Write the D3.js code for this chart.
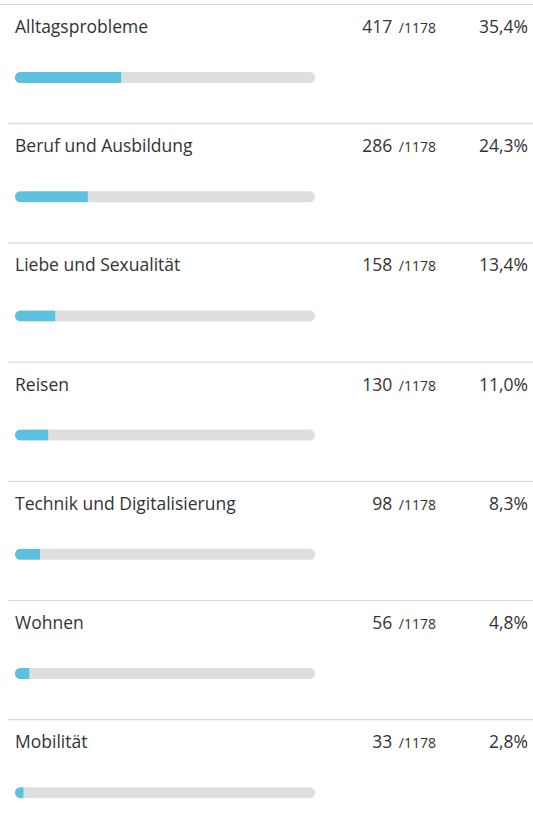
<!DOCTYPE html>
<html>
<head>
<meta charset="utf-8">
<script src="https://cdn.jsdelivr.net/npm/d3@7"></script>
<style>
  body { margin: 0; background: #fff; }
  svg text { font-family: "Open Sans", "Noto Sans", sans-serif; fill: #333333; }
</style>
</head>
<body>
<div id="chart"></div>
<script>
// data
var categories = ["Alltagsprobleme", "Beruf und Ausbildung", "Liebe und Sexualität", "Reisen",
  "Technik und Digitalisierung", "Wohnen", "Mobilität"];
var counts = [417, 286, 158, 130, 98, 56, 33];
var total = 1178;

var width = 533, height = 831;
var rowH = 119.2, top0 = 4;

var svg = d3.select("#chart").append("svg")
  .attr("width", width)
  .attr("height", height);

var y = d3.scaleBand()
  .domain(categories)
  .range([top0, top0 + rowH * categories.length])
  .padding(0);

var x = d3.scaleLinear()
  .domain([0, 1])
  .range([15, 315]);

var pct = function(v) { return d3.format(".1f")(v / total * 100).replace(".", ",") + "%"; };

var rows = svg.selectAll("g.row")
  .data(categories)
  .enter()
  .append("g")
  .attr("class", "row")
  .attr("transform", function(d) { return "translate(0," + y(d) + ")"; });

// separator lines
rows.append("line")
  .attr("x1", function(d, i) { return i == 0 ? 0 : 8; })
  .attr("x2", width)
  .attr("y1", 0.5)
  .attr("y2", 0.5)
  .attr("stroke", "#d9d9d9")
  .attr("stroke-width", 1.2);

rows.append("text")
  .attr("x", 15)
  .attr("y", 29)
  .style("font-size", "17.5px")
  .text(function(d) { return d; });

// count + total, right aligned
var cnt = rows.append("text")
  .attr("x", 436)
  .attr("y", 29)
  .attr("text-anchor", "end");
cnt.append("tspan")
  .style("font-size", "17.5px")
  .text(function(d, i) { return counts[i] + " "; });
cnt.append("tspan")
  .attr("dx", 2)
  .style("font-size", "14px")
  .text("/" + total);

rows.append("text")
  .attr("x", 528)
  .attr("y", 29)
  .attr("text-anchor", "end")
  .style("font-size", "17.5px")
  .text(function(d, i) { return pct(counts[i]); });

// track + fill
rows.append("rect")
  .attr("x", x(0))
  .attr("y", 68)
  .attr("width", x(1) - x(0))
  .attr("height", 11)
  .attr("rx", 5.5)
  .attr("fill", "#dedede");

rows.append("clipPath")
  .attr("id", function(d, i) { return "clip" + i; })
  .append("rect")
  .attr("x", x(0))
  .attr("y", 68)
  .attr("width", x(1) - x(0))
  .attr("height", 11)
  .attr("rx", 5.5);

rows.append("rect")
  .attr("clip-path", function(d, i) { return "url(#clip" + i + ")"; })
  .attr("x", x(0))
  .attr("y", 68)
  .attr("width", function(d, i) { return x(counts[i] / total) - x(0); })
  .attr("height", 11)
  .attr("fill", "#5bc1de");
</script>
</body>
</html>
